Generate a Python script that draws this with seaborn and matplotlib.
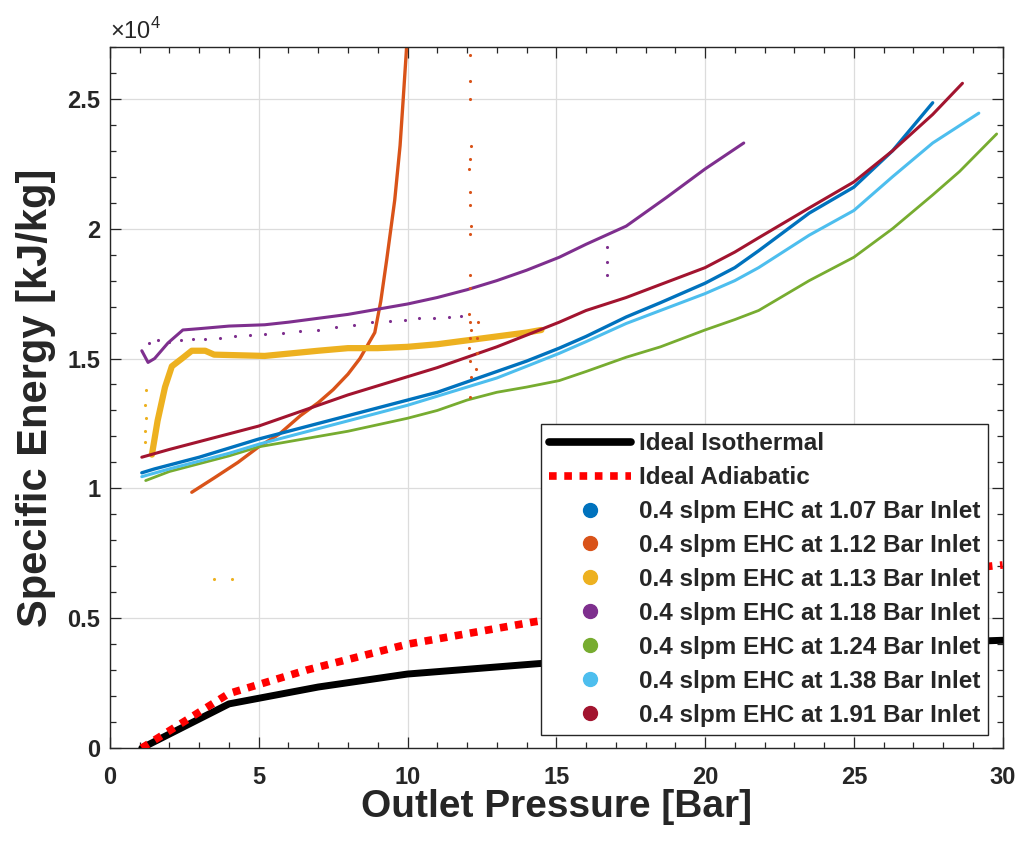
import numpy as np
import pandas as pd
import matplotlib
matplotlib.use("Agg")
import matplotlib.pyplot as plt
from matplotlib.lines import Line2D
from matplotlib.ticker import MultipleLocator, FuncFormatter
import seaborn as sns

#%% data (x = outlet pressure [Bar], y = specific energy [kJ/kg])
iso_x = [1.07, 4, 7, 10, 14.4, 20, 25, 30]
iso_y = [0, 1700, 2350, 2850, 3250, 3650, 3950, 4150]

adi_x = [1.07, 4, 6.6, 10, 14.2, 20, 25, 30]
adi_y = [0, 2100, 3000, 4000, 4850, 5850, 6500, 7050]

# 1.07 Bar inlet
b107_x = [1.07, 1.5, 2, 3, 4, 5, 6, 7, 8, 9, 10, 11, 12, 13, 14, 15.1, 16, 17.35, 18.5, 20, 21, 21.8, 23.5, 25, 26.3, 27.65]
b107_y = [10600, 10750, 10900, 11200, 11550, 11900, 12200, 12500, 12800, 13100, 13400, 13700, 14100, 14500, 14900,
          15400, 15850, 16600, 17150, 17900, 18500, 19150, 20600, 21600, 23000, 24850]

# 1.12 Bar inlet
b112_x = [2.75, 3.5, 4.3, 5.0, 5.7, 6.4, 7.0, 7.5, 8.0, 8.4, 8.7, 8.9, 9.1, 9.3, 9.57, 9.75, 9.85, 9.97, 10.05]
b112_y = [9850, 10400, 11000, 11600, 12100, 12800, 13300, 13800, 14400, 15000, 15600, 16000, 17200, 18800, 21100,
          23200, 24900, 27000, 28000]
b112_stray_x = [12.1, 12.1, 12.1, 12.12, 12.1, 12.08, 12.1, 12.1, 12.12, 12.1, 12.1, 12.1, 12.05, 12.1, 12.15,
                12.1, 12.08, 12.1, 12.12, 12.1, 12.3, 12.32, 12.35, 12.38]
b112_stray_y = [26700, 25700, 25000, 23200, 22700, 22300, 21400, 20900, 20100, 19800, 18200, 17700, 16700, 16400,
                16100, 15800, 15400, 14900, 14300, 13500, 14600, 15200, 15800, 16400]

# 1.13 Bar inlet
b113_x = [1.41, 1.6, 1.85, 2.08, 2.42, 2.75, 3.2, 3.5, 5.2, 7, 8, 9, 10, 11, 12, 13, 14, 14.5]
b113_y = [11300, 12600, 13900, 14700, 15000, 15300, 15300, 15150, 15100, 15300, 15400, 15400, 15450, 15550, 15700,
          15850, 16000, 16100]
b113_stray_x = [1.18, 1.18, 1.2, 1.18, 1.2, 3.5, 4.1]
b113_stray_y = [11800, 12200, 12700, 13200, 13800, 6500, 6500]

# 1.18 Bar inlet
b118_x = [1.07, 1.28, 1.5, 1.95, 2.45, 3, 4, 5.2, 6, 7, 8, 9, 10, 11, 12, 13, 14, 15.1, 16, 17.35, 18.7, 20, 21.3]
b118_y = [15300, 14850, 15000, 15600, 16100, 16150, 16250, 16300, 16400, 16550, 16700, 16900, 17100, 17350, 17650,
          18000, 18400, 18900, 19400, 20100, 21200, 22300, 23300]
b118_stray_x = [1.3, 1.6, 2.0, 2.4, 2.8, 3.2, 3.7, 4.2, 4.7, 5.2, 5.8, 6.4, 7.0, 7.6, 8.2, 8.8, 9.4, 9.9, 10.4,
                10.9, 11.4, 11.8, 16.7, 16.7, 16.7]
b118_stray_y = [15600, 15700, 15650, 15700, 15750, 15750, 15800, 15850, 15900, 15950, 16000, 16050, 16100, 16200,
                16300, 16400, 16450, 16500, 16550, 16550, 16600, 16650, 19300, 18700, 18200]

# 1.24 Bar inlet
b124_x = [1.2, 2, 3, 4, 5, 6, 7, 8, 9, 10, 11, 12, 13, 14, 15.1, 16, 17.35, 18.5, 20, 21, 21.8, 23.5, 25, 26.3,
          27.65, 28.55, 29.8]
b124_y = [10300, 10650, 10950, 11250, 11600, 11800, 12000, 12200, 12450, 12700, 13000, 13400, 13700, 13900, 14150,
          14500, 15050, 15450, 16100, 16500, 16850, 18000, 18900, 20000, 21300, 22200, 23650]

# 1.38 Bar inlet
b138_x = [1.07, 2, 3, 4, 5, 6, 7, 8, 9, 10, 11, 12, 13, 14, 15.1, 16, 17.35, 18.5, 20, 21, 21.8, 23.5, 25, 26.3,
          27.65, 29.2]
b138_y = [10450, 10750, 11050, 11350, 11700, 12000, 12300, 12600, 12900, 13200, 13550, 13900, 14250, 14700, 15200,
          15650, 16350, 16850, 17500, 18000, 18500, 19750, 20700, 22000, 23300, 24450]

# 1.91 Bar inlet
b191_x = [1.07, 2, 3, 4, 5, 6, 7, 8, 9, 10, 11, 12, 13, 14, 15.1, 16, 17.35, 18.5, 20, 21, 21.8, 23.5, 25, 26.3,
          27.65, 28.65]
b191_y = [11200, 11500, 11800, 12100, 12400, 12800, 13200, 13600, 13950, 14300, 14650, 15050, 15450, 15900, 16400,
          16850, 17350, 17850, 18500, 19100, 19650, 20800, 21800, 23000, 24400, 25600]

labels = ['0.4 slpm EHC at 1.07 Bar Inlet', '0.4 slpm EHC at 1.12 Bar Inlet', '0.4 slpm EHC at 1.13 Bar Inlet',
          '0.4 slpm EHC at 1.18 Bar Inlet', '0.4 slpm EHC at 1.24 Bar Inlet', '0.4 slpm EHC at 1.38 Bar Inlet',
          '0.4 slpm EHC at 1.91 Bar Inlet']
colors = ['#0072BD', '#D95319', '#EDB120', '#7E2F8E', '#77AC30', '#4DBEEE', '#A2142F']

#%% style
sns.set_theme(style='ticks')
plt.rcParams['font.family'] = ['Liberation Sans', 'DejaVu Sans']
plt.rcParams['mathtext.fontset'] = 'custom'
plt.rcParams['mathtext.rm'] = 'Liberation Sans'
txt = '#262626'

fig = plt.figure(figsize=(10.21, 8.44), dpi=100)
ax = fig.add_axes([0.1077, 0.1137, 0.8743, 0.8307])

#%% ideal curves
sns.lineplot(x=iso_x, y=iso_y, color='black', linewidth=5, sort=False, ax=ax, zorder=3)
sns.lineplot(x=adi_x, y=adi_y, color='#FF0000', linewidth=5.5, linestyle=(0, (1, 1)), sort=False, ax=ax, zorder=3)

#%% measured series
series = [(b107_x, b107_y), (b112_x, b112_y), (b113_x, b113_y), (b118_x, b118_y),
          (b124_x, b124_y), (b138_x, b138_y), (b191_x, b191_y)]
widths = [2.4, 2.4, 4.5, 2.2, 2.0, 2.2, 2.2]
draw_order = [1, 2, 3, 4, 5, 0, 6]
for i in draw_order:
    sx, sy = series[i]
    sns.lineplot(x=sx, y=sy, color=colors[i], linewidth=widths[i], sort=False, ax=ax, zorder=2)

sns.scatterplot(x=b112_stray_x, y=b112_stray_y, color=colors[1], s=5, linewidth=0, ax=ax, zorder=2)
sns.scatterplot(x=b113_stray_x, y=b113_stray_y, color=colors[2], s=5, linewidth=0, ax=ax, zorder=2)
sns.scatterplot(x=b118_stray_x, y=b118_stray_y, color=colors[3], s=5, linewidth=0, ax=ax, zorder=2)

#%% axes
ax.set_xlim(0, 30)
ax.set_ylim(0, 27000)
ax.xaxis.set_major_locator(MultipleLocator(5))
ax.xaxis.set_minor_locator(MultipleLocator(1))
ax.yaxis.set_major_locator(MultipleLocator(5000))
ax.yaxis.set_minor_locator(MultipleLocator(1000))
ax.yaxis.set_major_formatter(FuncFormatter(lambda v, p: '%g' % (v / 1e4)))
ax.grid(True, which='major', color='#dcdcdc', linewidth=0.9)
ax.set_axisbelow(True)
ax.tick_params(which='both', direction='in', top=True, right=True, colors=txt, width=0.9)
ax.tick_params(which='major', length=8)
ax.tick_params(which='minor', length=4)
ax.tick_params(axis='x', which='major', pad=13, labelsize=17)
ax.tick_params(axis='y', which='major', pad=7, labelsize=17)
for lab in ax.get_xticklabels() + ax.get_yticklabels():
    lab.set_fontweight('bold')
for sp in ax.spines.values():
    sp.set_color(txt)
    sp.set_linewidth(1.0)

ax.set_xlabel('Outlet Pressure [Bar]', fontsize=28, fontweight='bold', color=txt, labelpad=0)
ax.set_ylabel('Specific Energy [kJ/kg]', fontsize=30, fontweight='bold', color=txt, labelpad=8)
ax.text(0.0, 1.004, r'$\times10^4$', transform=ax.transAxes, fontsize=17, color=txt, ha='left', va='bottom')

#%% legend
handles = [Line2D([], [], color='black', linewidth=5.5),
           Line2D([], [], color='#FF0000', linewidth=5.5, linestyle=(0, (1, 1)))]
for c in colors:
    handles.append(Line2D([], [], color=c, marker='o', linestyle='', markersize=10))
leg = ax.legend(handles, ['Ideal Isothermal', 'Ideal Adiabatic'] + labels,
                loc='upper left', bbox_to_anchor=(0.4826, 0.462), borderaxespad=0,
                prop={'weight': 'bold', 'size': 17.5}, handlelength=3.4, handletextpad=0.3,
                labelspacing=0.45, borderpad=0.33, fancybox=False, framealpha=1, edgecolor=txt)
leg.get_frame().set_linewidth(1.0)
leg.set_zorder(5)

plt.savefig('out.png', dpi=100)
